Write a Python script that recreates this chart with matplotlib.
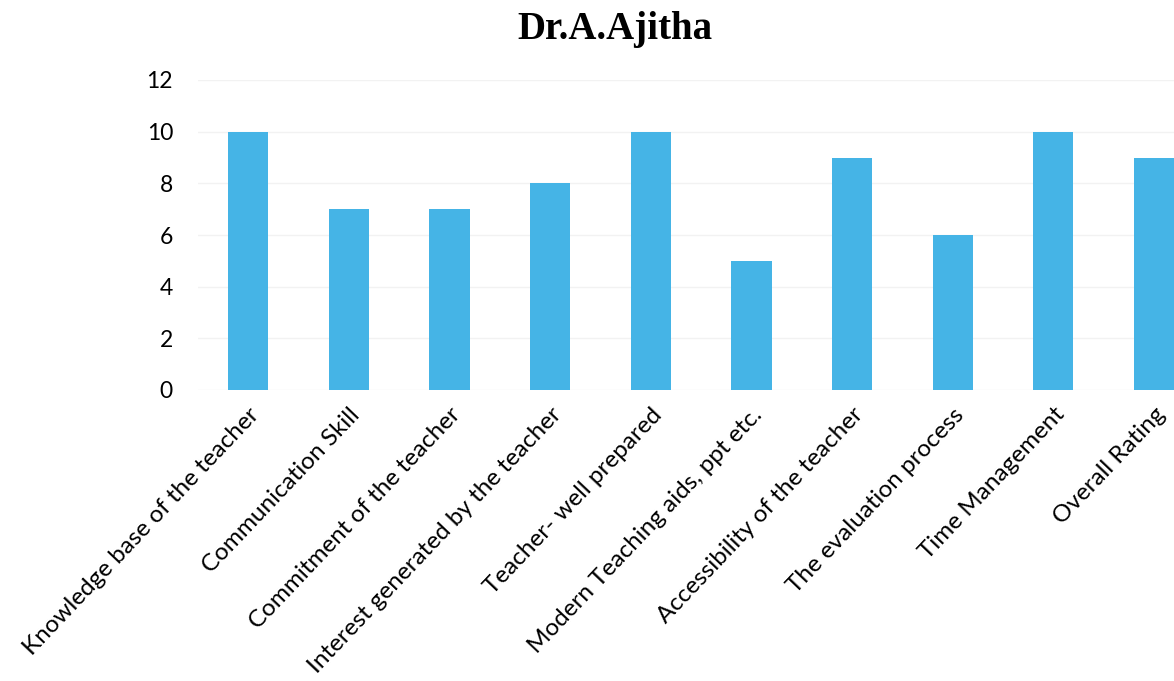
import matplotlib.pyplot as plt
import numpy as np

# Feedback ratings
categories = [
    'Knowledge base of the teacher',
    'Communication Skill',
    'Commitment of the teacher',
    'Interest generated by the teacher',
    'Teacher- well prepared',
    'Modern Teaching aids, ppt etc.',
    'Accessibility of the teacher',
    'The evaluation process',
    'Time Management',
    'Overall Rating',
]
ratings = [10, 7, 7, 8, 10, 5, 9, 6, 10, 9]
yticks = [0, 2, 4, 6, 8, 10, 12]

fig = plt.figure(figsize=(11.74, 6.81), dpi=100)
ax = fig.add_axes([198 / 1174, 1 - 390 / 681, 1 - 198 / 1174, 310 / 681])

x = np.arange(len(categories))
ax.bar(x, ratings, width=0.4, color='#45b4e6', zorder=2)

ax.set_xlim(-0.5, 9.2)
ax.set_ylim(0, 12)
ax.set_yticks(yticks)
ax.set_yticklabels([str(t) for t in yticks], fontsize=16.5, family='Lato')
ax.yaxis.grid(True, color='#f2f2f2', linewidth=1, zorder=0)
ax.tick_params(axis='y', length=0, pad=18)
ax.tick_params(axis='x', length=0, pad=10)

ax.set_xticks(x)
ax.set_xticklabels(categories, rotation=46.5, ha='right', rotation_mode='anchor',
                   fontsize=17.5, family='Lato')

for s in ax.spines.values():
    s.set_visible(False)

fig.text(0.524, 0.957, 'Dr.A.Ajitha', ha='center', va='center', fontsize=28,
         fontweight='bold', family='Liberation Serif')

fig.savefig('out.png', dpi=100)
